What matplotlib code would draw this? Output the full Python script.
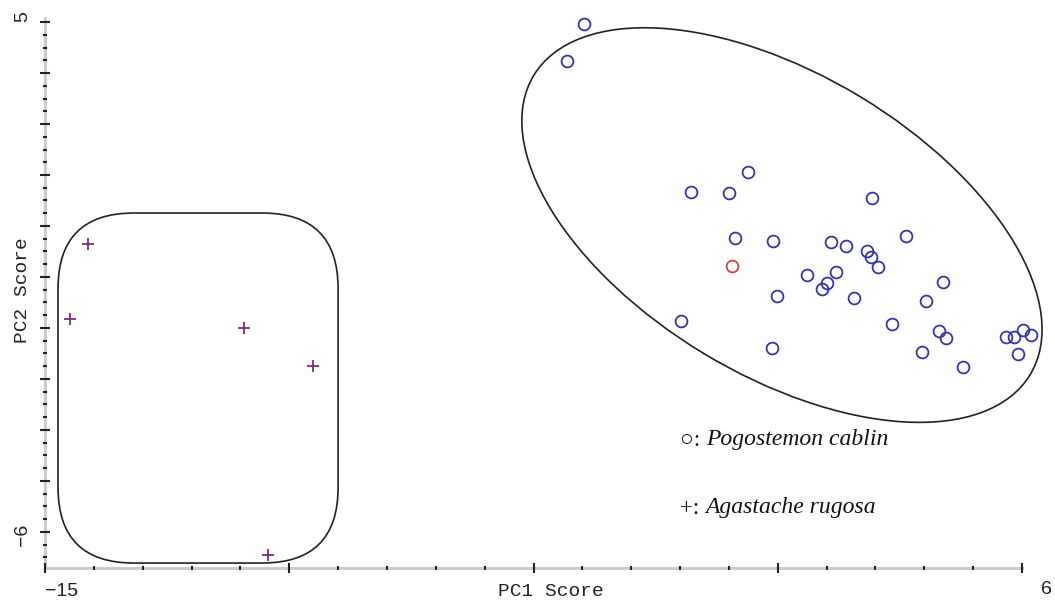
import numpy as np
import matplotlib
matplotlib.use("Agg")
import matplotlib.pyplot as plt
from matplotlib.patches import Ellipse, FancyBboxPatch

# PCA scores
cablin_x = [-3.41, -3.78, -1.11, -0.30, 0.11, 2.78, -0.17, 0.65, 1.90, 2.22,
            2.67, 2.76, 2.91, 3.51, 1.38, 2.00, 1.81, 1.70, 0.74, 2.39,
            3.94, -1.33, 3.21, 0.63, 3.85, 4.30, 4.22, 4.37, 4.73, 5.66,
            5.83, 6.02, 6.20, 5.92]
cablin_y = [4.96, 4.16, 1.33, 1.31, 1.76, 1.20, 0.34, 0.28, 0.25, 0.17,
            0.06, -0.07, -0.28, 0.38, -0.46, -0.39, -0.63, -0.76, -0.91, -0.95,
            -1.02, -1.45, -1.51, -2.03, -2.12, -0.61, -1.67, -1.82, -2.44, -1.79,
            -1.79, -1.64, -1.75, -2.16]
outlier_x = [-0.23]
outlier_y = [-0.26]
rugosa_x = [-14.08, -14.46, -10.72, -9.24, -10.21]
rugosa_y = [0.21, -1.41, -1.60, -2.42, -6.50]

x_range = (-15, 6)
y_range = (-6.777, 5.08)

fig = plt.figure(figsize=(10.55, 6.04), dpi=100)
ax = fig.add_axes([45 / 1055, 36 / 604, 977 / 1055, 549.7 / 604])
ax.set_xlim(*x_range)
ax.set_ylim(*y_range)

# group outlines
ell = Ellipse((0.84, 0.62), 12.47, 6.48, angle=-31.2, fill=False,
              edgecolor="#222222", linewidth=1.2, clip_on=False)
ax.add_patch(ell)
box = FancyBboxPatch((-14.72, -6.67), 6.02, 7.55,
                     boxstyle="round,pad=0,rounding_size=1.63",
                     fill=False, edgecolor="#222222", linewidth=1.2, clip_on=False)
ax.add_patch(box)

ax.plot(cablin_x, cablin_y, "o", markersize=8.5, markerfacecolor="none",
        markeredgecolor="#3535a8", markeredgewidth=1.3, clip_on=False)
ax.plot(outlier_x, outlier_y, "o", markersize=8.5, markerfacecolor="none",
        markeredgecolor="#c04848", markeredgewidth=1.3, clip_on=False)
ax.plot(rugosa_x, rugosa_y, "+", markersize=9, markeredgecolor="#84287f",
        markeredgewidth=1.3, clip_on=False)

# axes styling
for s in ["top", "right"]:
    ax.spines[s].set_visible(False)
for s in ["left", "bottom"]:
    ax.spines[s].set_color("#cccccc")
    ax.spines[s].set_linewidth(2.2)
    ax.spines[s].set_zorder(1)

xt = np.linspace(-15, 6, 21)
ax.set_xticks(xt[::5])
ax.set_xticks([v for i, v in enumerate(xt) if i % 5], minor=True)
yt = -6 + 0.275 * np.arange(-2, 41)
ax.set_yticks(np.linspace(-6, 5, 11))
ax.set_yticks([v for i, v in enumerate(yt) if i % 4 != 2], minor=True)
ax.tick_params(which="both", direction="inout", color="#222222",
               labelbottom=False, labelleft=False)
ax.tick_params(which="major", length=7, width=1.5)
ax.tick_params(which="minor", length=3, width=1.5)
ax.xaxis.set_zorder(3)
ax.yaxis.set_zorder(3)

num_font = dict(family="Liberation Sans", fontsize=14, color="#222222")
mono_font = dict(family="Liberation Mono", fontsize=14, color="#222222")
fig.text(23 / 1055, 1 - 17 / 604, "5", rotation=90, ha="center", va="center", **num_font)
fig.text(23 / 1055, 1 - 535 / 604, "\u22126", rotation=90, ha="center", va="center", **num_font)
fig.text(23 / 1055, 1 - 290 / 604, "PC2 Score", rotation=90, ha="center", va="center", **mono_font)
fig.text(62 / 1055, 1 - 592 / 604, "\u221215", ha="center", va="center", **num_font)
fig.text(1046 / 1055, 1 - 590 / 604, "6", ha="center", va="center", **num_font)
fig.text(551 / 1055, 1 - 592 / 604, "PC1 Score", ha="center", va="center", **mono_font)

# species key
for label, name, ypx in [("\u25cb: ", "Pogostemon cablin", 440),
                         ("+: ", "Agastache rugosa", 508)]:
    t = fig.text(680 / 1055, 1 - ypx / 604, label, ha="left", va="center",
                 family=["Liberation Serif", "DejaVu Sans"], fontsize=16.5, color="#111111")
    ax.annotate(name, xy=(1, 0.5), xycoords=t, va="center", ha="left",
                family="Liberation Serif", style="italic", fontsize=17, color="#111111",
                annotation_clip=False)

fig.savefig("out.png", dpi=100, facecolor="white")
